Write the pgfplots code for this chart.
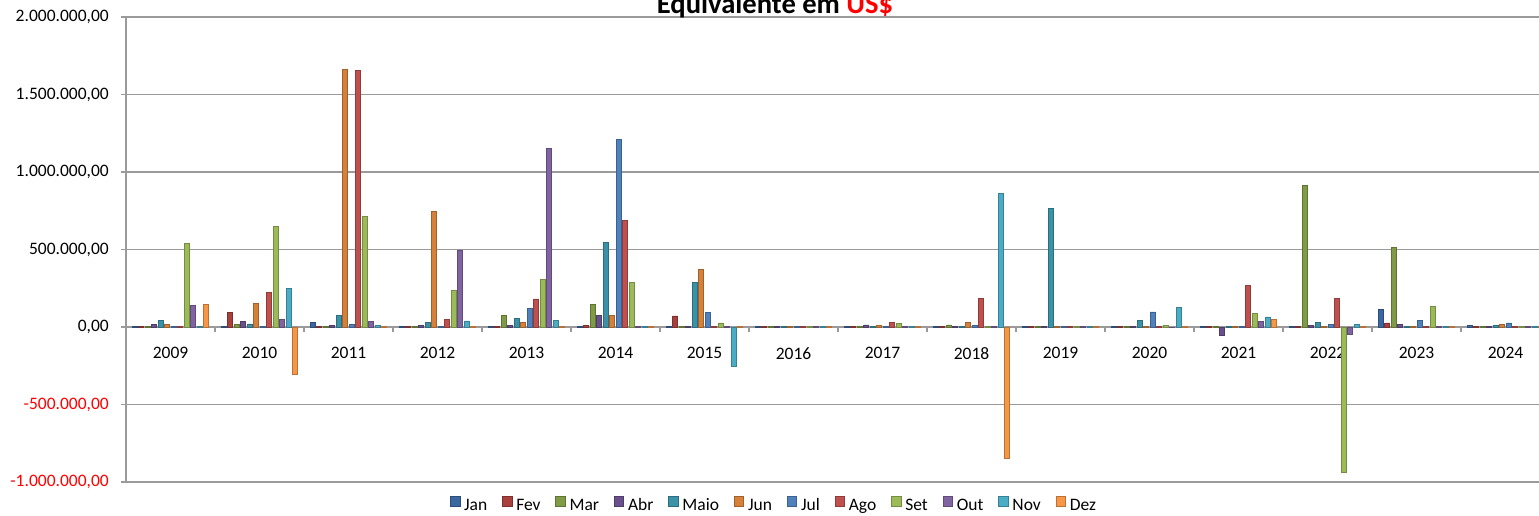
\documentclass[border=0pt]{standalone}
\usepackage{pgfplots}
\pgfplotsset{compat=1.18}
\usepackage{pgfplotstable}
\usepackage{fontspec}
\setmainfont{Carlito}
\definecolor{cJan}{HTML}{3A679F}
\definecolor{cFev}{HTML}{A8403D}
\definecolor{cMar}{HTML}{7F9B45}
\definecolor{cAbr}{HTML}{69508C}
\definecolor{cMai}{HTML}{3A91A8}
\definecolor{cJun}{HTML}{D6813A}
\definecolor{cJul}{HTML}{4F81BD}
\definecolor{cAgo}{HTML}{C0504D}
\definecolor{cSet}{HTML}{9BBB59}
\definecolor{cOut}{HTML}{8064A2}
\definecolor{cNov}{HTML}{4BACC6}
\definecolor{cDez}{HTML}{F79646}
\definecolor{gridgray}{HTML}{9A9A9A}
% values in thousands of US$
\pgfplotstableread{
x  Jan Fev Mar Abr Mai Jun Jul Ago Set Out Nov Dez
0  3   2   2   15  43  17  2   2   540 140 2   144
1  3   95  15  34  20  151 3   224 647 47  247 -303
2  28  3   3   10  75  1660 15 1658 711 35 10  2
3  3   3   5   10  28  746 5   50  234 497 39  3
4  3   3   73  10  54  28  120 181 308 1152 45 3
5  3   10  148 77  546 77  1212 690 288 3  3   3
6  3   72  3   5   290 370 95  3   26  5   -254 3
7  3   3   5   3   3   3   3   3   3   6   3   3
8  3   3   5   13  3   8   5   30  24  5   3   3
9  3   3   13  3   3   30  10  187 3   3   860 -845
10 3   3   3   5   765 3   6   3   3   3   3   3
11 3   3   3   3   43  3   97  3   10  -5  127 3
12 3   3   3   -54 3   3   3   269 90  37  65  47
13 3   3   912 10  30  3   15  185 -936 -50 19 3
14 112 26  515 19  3   3   43  5   135 3   3   5
15 10  5   5   5   8   19  26  3   3   3   3   3
}\data
\begin{document}
\fontsize{8.75}{10.5}\selectfont
\begin{tikzpicture}
\begin{axis}[
  scale only axis, width=706.5pt, height=232.5pt,
  xmin=-0.5, xmax=15.376, ymin=-1000, ymax=2000,
  clip=false,
  ybar=0.75pt, bar width=2.5pt,
  axis line style={draw=none},
  ytick={-1000,-500,0,500,1000,1500,2000},
  yticklabels={{\color{red}-1.000.000,00},{\color{red}-500.000,00},{0,00},{500.000,00},{1.000.000,00},{1.500.000,00},{2.000.000,00}},
  ymajorgrids, grid style={draw=gridgray, line width=0.8pt},
  ytick style={draw=gridgray, line width=0.8pt},
  tick align=outside, major tick length=2.5pt,
  xtick={0,...,15},
  xticklabels={2009,2010,2011,2012,2013,2014,2015,2016,2017,2018,2019,2020,2021,2022,2023,2024},
  xtick style={draw=none},
  xticklabel style={yshift=73pt},
  yticklabel style={xshift=-3pt},
  legend columns=12,
  legend style={draw=none, fill=none, at={(0.4593,-0.052)}, anchor=center,
    /tikz/every even column/.append style={column sep=5.4pt},
    inner sep=0pt},
  legend image code/.code={\fill[#1] (0pt,0pt) rectangle (4.8pt,4.8pt);},
]
\addplot[fill=cJan, draw=cJan!75!black, line width=0.3pt] table[x=x,y=Jan]{\data};
\addplot[fill=cFev, draw=cFev!75!black, line width=0.3pt] table[x=x,y=Fev]{\data};
\addplot[fill=cMar, draw=cMar!75!black, line width=0.3pt] table[x=x,y=Mar]{\data};
\addplot[fill=cAbr, draw=cAbr!75!black, line width=0.3pt] table[x=x,y=Abr]{\data};
\addplot[fill=cMai, draw=cMai!75!black, line width=0.3pt] table[x=x,y=Mai]{\data};
\addplot[fill=cJun, draw=cJun!75!black, line width=0.3pt] table[x=x,y=Jun]{\data};
\addplot[fill=cJul, draw=cJul!75!black, line width=0.3pt] table[x=x,y=Jul]{\data};
\addplot[fill=cAgo, draw=cAgo!75!black, line width=0.3pt] table[x=x,y=Ago]{\data};
\addplot[fill=cSet, draw=cSet!75!black, line width=0.3pt] table[x=x,y=Set]{\data};
\addplot[fill=cOut, draw=cOut!75!black, line width=0.3pt] table[x=x,y=Out]{\data};
\addplot[fill=cNov, draw=cNov!75!black, line width=0.3pt] table[x=x,y=Nov]{\data};
\addplot[fill=cDez, draw=cDez!75!black, line width=0.3pt] table[x=x,y=Dez]{\data};
\legend{Jan,Fev,Mar,Abr,Maio,Jun,Jul,Ago,Set,Out,Nov,Dez}
\draw[gridgray, line width=0.8pt] (axis cs:-0.5,-1000) -- (axis cs:-0.5,2000);
\pgfplotsinvokeforeach{-0.5,0.5,1.5,2.5,3.5,4.5,5.5,6.5,7.5,8.5,9.5,10.5,11.5,12.5,13.5,14.5}{\draw[gridgray, line width=0.8pt] (axis cs:#1,0) -- (axis cs:#1,-35);}
\end{axis}
\node[anchor=base, font=\fontsize{14.3}{17}\selectfont\bfseries] at (324.5pt,234.25pt) {Equivalente em \textcolor{red}{US\$}};
\pgfresetboundingbox
\path[use as bounding box] (-63pt,-16.5pt) rectangle (706.5pt,241pt);
\end{tikzpicture}
\end{document}
